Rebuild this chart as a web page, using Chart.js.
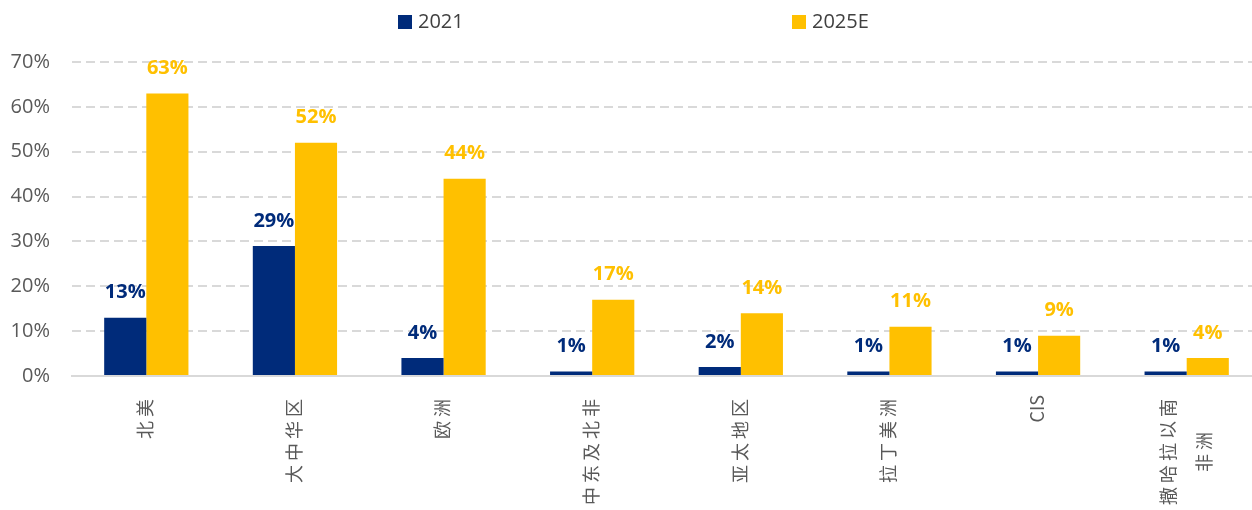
<!DOCTYPE html>
<html lang="zh">
<head>
<meta charset="utf-8">
<title>Regiones</title>
<script src="https://cdn.jsdelivr.net/npm/chart.js@4.4.0/dist/chart.umd.min.js"></script>
<style>
  html, body { margin: 0; background: #fff; overflow: hidden; }
  /* el area de la grafica sigue un poco mas alla del borde derecho, como en la imagen */
  #contenedor { width: 1261px; height: 510px; position: relative; }
</style>
</head>
<body>
<div id="contenedor"><canvas id="grafica"></canvas></div>
<script>
// datos (en %)
const categorias = ['北美', '大中华区', '欧洲', '中东及北非', '亚太地区', '拉丁美洲', 'CIS', ['撒哈拉以南', '非洲']];
const series = ['2021', '2025E'];
const valores2021 = [13, 29, 4, 1, 2, 1, 1, 1];
const valores2025 = [63, 52, 44, 17, 14, 11, 9, 4];
const ticksY = [0, 10, 20, 30, 40, 50, 60, 70];

const AZUL = '#002B7A';
const ORO = '#FFC000';
const GRIS_TEXTO = '#595959';

// leyenda dibujada a mano para separar los dos items como en la imagen
const leyendaPlugin = {
  id: 'leyendaManual',
  afterDraw(chart) {
    const ctx = chart.ctx;
    const posiciones = [398, 792];
    ctx.save();
    ctx.font = '20px "Open Sans"';
    ctx.textBaseline = 'middle';
    ctx.textAlign = 'left';
    chart.data.datasets.forEach((ds, i) => {
      ctx.fillStyle = ds.backgroundColor;
      ctx.fillRect(posiciones[i], 15, 14, 14);
      ctx.fillStyle = '#404040';
      ctx.fillText(ds.label, posiciones[i] + 20, 22);
    });
    ctx.restore();
  }
};

// etiquetas de valor encima de cada barra
const etiquetasPlugin = {
  id: 'etiquetasValor',
  afterDatasetsDraw(chart) {
    const ctx = chart.ctx;
    ctx.save();
    ctx.font = 'bold 20px "Open Sans"';
    ctx.textAlign = 'center';
    ctx.textBaseline = 'middle';
    chart.data.datasets.forEach((ds, i) => {
      const meta = chart.getDatasetMeta(i);
      ctx.fillStyle = ds.backgroundColor;
      meta.data.forEach((barra, j) => {
        ctx.fillText(ds.data[j] + '%', barra.x, barra.y - 25);
      });
    });
    ctx.restore();
  }
};

// etiquetas del eje X giradas, con espacio entre caracteres chinos
const ejeXPlugin = {
  id: 'ejeXVertical',
  afterDraw(chart) {
    const ctx = chart.ctx;
    const escalaX = chart.scales.x;
    const arriba = chart.chartArea.bottom + 19;
    ctx.save();
    ctx.font = '18px "Noto Sans CJK SC"';
    ctx.fillStyle = GRIS_TEXTO;
    ctx.textAlign = 'center';
    ctx.textBaseline = 'middle';
    categorias.forEach((cat, i) => {
      const lineas = Array.isArray(cat) ? cat : [cat];
      const latino = /^[A-Za-z]+$/.test(lineas[0]);
      ctx.letterSpacing = latino ? '0px' : '4px';
      const x = escalaX.getPixelForValue(i);
      const anchoMax = Math.max(...lineas.map(l => ctx.measureText(l).width));
      ctx.save();
      ctx.translate(x, arriba);
      ctx.rotate(-Math.PI / 2);
      lineas.forEach((linea, k) => {
        const desplazamiento = (k - (lineas.length - 1) / 2) * 36 - 1;
        ctx.fillText(linea, -anchoMax / 2, desplazamiento);
      });
      ctx.restore();
    });
    ctx.restore();
  }
};

const ctx = document.getElementById('grafica').getContext('2d');

new Chart(ctx, {
  type: 'bar',
  data: {
    labels: categorias,
    datasets: [
      { label: series[0], data: valores2021, backgroundColor: AZUL },
      { label: series[1], data: valores2025, backgroundColor: ORO }
    ]
  },
  options: {
    responsive: true,
    maintainAspectRatio: false,
    animation: false,
    layout: { padding: { top: 62, left: 0, right: 0, bottom: 0 } },
    datasets: {
      bar: { barPercentage: 1, categoryPercentage: 0.567 }
    },
    scales: {
      x: {
        grid: { display: false },
        border: { display: true, color: '#D9D9D9', width: 2 },
        ticks: { display: false },
        afterFit(scale) { scale.height = 134; }
      },
      y: {
        min: 0,
        max: 70,
        afterBuildTicks(scale) { scale.ticks = ticksY.map(v => ({ value: v })); },
        grid: { color: '#D9D9D9', lineWidth: 2, drawTicks: false },
        border: { display: false, dash: [9, 5] },
        ticks: {
          padding: 22,
          color: GRIS_TEXTO,
          font: { family: 'Open Sans', size: 20 },
          callback: v => v + '%'
        },
        afterFit(scale) { scale.width = 72; }
      }
    },
    plugins: {
      legend: { display: false },
      tooltip: { enabled: false }
    }
  },
  plugins: [leyendaPlugin, etiquetasPlugin, ejeXPlugin]
});
</script>
</body>
</html>
